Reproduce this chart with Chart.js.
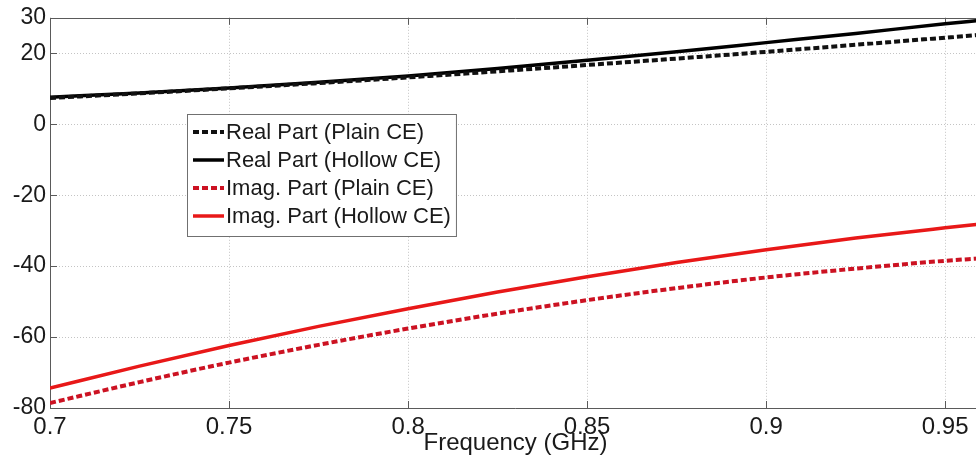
<!DOCTYPE html>
<html>
<head>
<meta charset="utf-8">
<script src="https://cdn.jsdelivr.net/npm/chart.js@4.4.1/dist/chart.umd.min.js"></script>
<style>
  html, body { margin: 0; padding: 0; background: #fff; overflow: hidden; }
  #wrap { width: 985px; height: 465px; position: relative; }
</style>
</head>
<body>
<div id="wrap"><canvas id="chart"></canvas></div>
<script>
/* ── DATA ─────────────────────────────────────────────────── */
const freq       = [0.70, 0.725, 0.75, 0.775, 0.80, 0.825, 0.85, 0.875, 0.90, 0.925, 0.95, 0.96];
const realPlain  = [7.4, 8.7, 10.1, 11.6, 13.2, 14.9, 16.7, 18.5, 20.4, 22.4, 24.4, 25.2];
const realHollow = [7.6, 8.8, 10.2, 11.8, 13.6, 15.7, 18.0, 20.4, 23.0, 25.6, 28.3, 29.3];
const imagPlain  = [-78.6, -72.7, -67.2, -62.2, -57.6, -53.4, -49.6, -46.2, -43.2, -40.7, -38.5, -37.8];
const imagHollow = [-74.4, -68.2, -62.4, -57.0, -52.0, -47.3, -43.0, -39.0, -35.4, -32.1, -29.2, -28.1];

const xTicks = [0.7, 0.75, 0.8, 0.85, 0.9, 0.95];
const yTicks = [-80, -60, -40, -20, 0, 20, 30];

const FONT = 'Liberation Sans, Arial, sans-serif';
const TEXT = '#1a1a1a';

function pts(ys) {
  return freq.map((x, i) => ({ x, y: ys[i] }));
}

/* ── FRAME + GRID (matlab style) ──────────────────────────── */
const framePlugin = {
  id: 'frame',
  beforeDatasetsDraw(chart) {
    const { ctx, chartArea: a, scales: { x, y } } = chart;
    ctx.save();
    ctx.strokeStyle = '#c4c4c4';
    ctx.lineWidth = 1;
    ctx.setLineDash([1, 2]);
    x.ticks.forEach(t => {
      const px = Math.round(x.getPixelForValue(t.value)) + 0.5;
      if (px <= a.left + 1 || px >= a.right - 1) return;
      ctx.beginPath(); ctx.moveTo(px, a.top); ctx.lineTo(px, a.bottom); ctx.stroke();
    });
    y.ticks.forEach(t => {
      const py = Math.round(y.getPixelForValue(t.value)) + 0.5;
      if (py <= a.top + 1 || py >= a.bottom - 1) return;
      ctx.beginPath(); ctx.moveTo(a.left, py); ctx.lineTo(a.right, py); ctx.stroke();
    });
    ctx.setLineDash([]);
    ctx.strokeStyle = '#5a5a5a';
    // inside tick marks
    x.ticks.forEach(t => {
      const px = Math.round(x.getPixelForValue(t.value)) + 0.5;
      ctx.beginPath();
      ctx.moveTo(px, a.bottom); ctx.lineTo(px, a.bottom - 7);
      ctx.moveTo(px, a.top); ctx.lineTo(px, a.top + 7);
      ctx.stroke();
    });
    y.ticks.forEach(t => {
      const py = Math.round(y.getPixelForValue(t.value)) + 0.5;
      ctx.beginPath(); ctx.moveTo(a.left, py); ctx.lineTo(a.left + 7, py); ctx.stroke();
    });
    // axes box
    ctx.beginPath();
    ctx.moveTo(a.right, Math.round(a.top) + 0.5);
    ctx.lineTo(Math.round(a.left) + 0.5, Math.round(a.top) + 0.5);
    ctx.lineTo(Math.round(a.left) + 0.5, Math.round(a.bottom) + 0.5);
    ctx.lineTo(a.right, Math.round(a.bottom) + 0.5);
    ctx.stroke();
    ctx.restore();
  }
};

/* ── LEGEND BOX (inside axes) ─────────────────────────────── */
const legendPlugin = {
  id: 'boxLegend',
  afterDraw(chart) {
    const { ctx } = chart;
    const left = 187, top = 114, rowH = 28;
    ctx.save();
    ctx.font = '22px ' + FONT;
    const sets = chart.data.datasets;
    const w = Math.max(...sets.map(d => ctx.measureText(d.label).width));
    const boxW = 40 + w + 4, boxH = rowH * sets.length + 10;
    ctx.fillStyle = '#fff';
    ctx.fillRect(left, top, boxW, boxH);
    ctx.strokeStyle = '#707070';
    ctx.lineWidth = 1;
    ctx.strokeRect(left + 0.5, top + 0.5, boxW, boxH);
    sets.forEach((d, i) => {
      const cy = top + 18 + i * rowH;
      ctx.strokeStyle = d.borderColor;
      ctx.lineWidth = d.borderWidth;
      ctx.setLineDash(d.borderDash || []);
      ctx.beginPath(); ctx.moveTo(left + 6, cy); ctx.lineTo(left + 37, cy); ctx.stroke();
      ctx.setLineDash([]);
      ctx.fillStyle = TEXT;
      ctx.textBaseline = 'middle';
      ctx.fillText(d.label, left + 39, cy + 1);
    });
    ctx.restore();
  }
};

/* ── CHART ────────────────────────────────────────────────── */
function line(label, data, color, dashed) {
  return {
    label,
    data: pts(data),
    borderColor: color,
    borderWidth: dashed ? 4 : 3.5,
    borderDash: dashed ? [6, 3] : [],
    pointRadius: 0,
    fill: false,
    cubicInterpolationMode: 'monotone'
  };
}

new Chart(document.getElementById('chart'), {
  type: 'line',
  data: {
    datasets: [
      line('Real Part (Plain CE)', realPlain, '#111111', true),
      line('Real Part (Hollow CE)', realHollow, '#000000', false),
      line('Imag. Part (Plain CE)', imagPlain, '#cc1222', true),
      line('Imag. Part (Hollow CE)', imagHollow, '#e81818', false)
    ]
  },
  options: {
    responsive: true,
    maintainAspectRatio: false,
    animation: false,
    layout: { padding: { top: 16, right: 4, left: 0, bottom: 0 } },
    plugins: { legend: { display: false }, tooltip: { enabled: false } },
    scales: {
      x: {
        type: 'linear',
        min: 0.7, max: 0.96,
        afterBuildTicks: s => { s.ticks = xTicks.map(v => ({ value: v })); },
        afterFit: s => { s.height = 57; },
        grid: { display: false, drawTicks: false },
        border: { display: false },
        ticks: {
          padding: 5,
          color: TEXT,
          font: { family: FONT, size: 24 },
          maxRotation: 0,
          callback: v => String(v)
        },
        title: {
          display: true,
          text: 'Frequency (GHz)',
          color: TEXT,
          font: { family: FONT, size: 24 },
          padding: { top: 0, bottom: 7 }
        }
      },
      y: {
        min: -80, max: 30,
        afterBuildTicks: s => { s.ticks = yTicks.map(v => ({ value: v })); },
        afterFit: s => { s.width = 50; },
        grid: { display: false, drawTicks: false },
        border: { display: false },
        ticks: {
          padding: 4,
          color: TEXT,
          font: { family: FONT, size: 23 },
          callback: v => String(v)
        }
      }
    }
  },
  plugins: [framePlugin, legendPlugin]
});
</script>
</body>
</html>
